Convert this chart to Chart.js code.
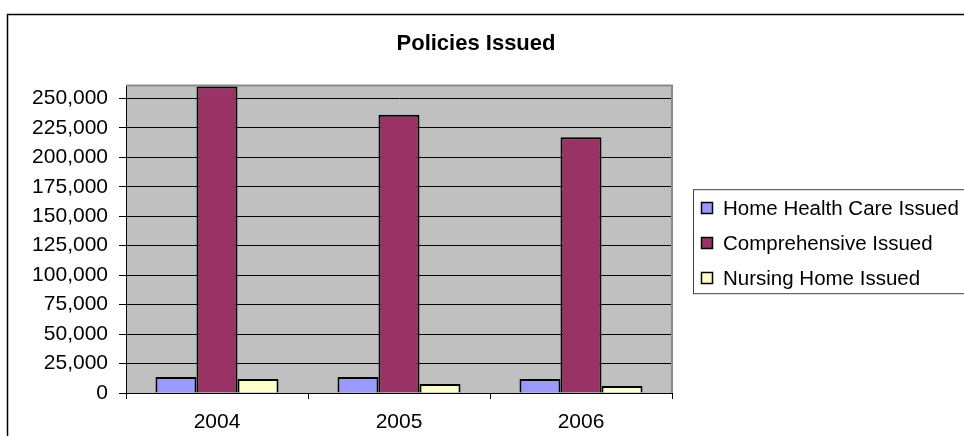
<!DOCTYPE html>
<html>
<head>
<meta charset="utf-8">
<title>Policies Issued</title>
<script src="https://cdn.jsdelivr.net/npm/chart.js@4.4.0/dist/chart.umd.min.js"></script>
<style>
  html, body { margin: 0; padding: 0; background: #fff; }
  canvas { display: block; }
</style>
</head>
<body>
<canvas id="policies" width="964" height="436"></canvas>
<script>
// Policies issued per year, by policy type
const years = ['2004', '2005', '2006'];
const homeHealthIssued = [13600, 13600, 11900];
const comprehensiveIssued = [260000, 236000, 217000];
const nursingHomeIssued = [11900, 7600, 5900];

const seriesNames = ['Home Health Care Issued', 'Comprehensive Issued', 'Nursing Home Issued'];
const seriesColors = ['#9999FF', '#993366', '#FFFFCC'];

const yTickValues = [0, 25000, 50000, 75000, 100000, 125000, 150000, 175000, 200000, 225000, 250000];
const yMax = 261000;

const FONT = '"Liberation Sans", Arial, Helvetica, sans-serif';
Chart.defaults.font.family = FONT;
Chart.defaults.font.size = 21;
Chart.defaults.color = '#000';

// White page, the frame line along the top and left, grey plot background
const frame = {
    id: 'frame',
    beforeDraw(chart) {
        const { ctx, chartArea: a } = chart;
        ctx.save();
        ctx.fillStyle = '#fff';
        ctx.fillRect(0, 0, chart.width, chart.height);
        ctx.strokeStyle = '#000';
        ctx.lineWidth = 1.5;
        ctx.beginPath();
        ctx.moveTo(7.5, chart.height);
        ctx.lineTo(7.5, 14.5);
        ctx.lineTo(chart.width, 14.5);
        ctx.stroke();
        ctx.fillStyle = '#C0C0C0';
        ctx.fillRect(a.left, a.top, a.right - a.left, a.bottom - a.top);
        ctx.restore();
    },
    beforeDatasetsDraw(chart) {
        const { ctx, chartArea: a } = chart;
        ctx.save();
        ctx.strokeStyle = '#8a8a8a';
        ctx.lineWidth = 2;
        ctx.beginPath();
        ctx.moveTo(a.left, a.top);
        ctx.lineTo(a.right, a.top);
        ctx.lineTo(a.right, a.bottom);
        ctx.stroke();
        ctx.restore();
    }
};

function drawLegend(chart, box) {
    const ctx = chart.ctx;
    const cy = (box.top + box.bottom) / 2;
    ctx.save();
    ctx.lineWidth = 1;
    ctx.strokeStyle = '#404040';
    ctx.strokeRect(box.left + 21.5, cy - 49.5, 320, 104);
    ctx.font = '20.5px ' + FONT;
    ctx.textBaseline = 'middle';
    ctx.textAlign = 'left';
    chart.data.datasets.forEach((ds, i) => {
        const y = Math.round(cy + 3.5 + (i - 1) * 35);
        ctx.fillStyle = ds.backgroundColor;
        ctx.fillRect(box.left + 29.5, y - 5.5, 11, 11);
        ctx.lineWidth = 1.5;
        ctx.strokeStyle = '#000';
        ctx.strokeRect(box.left + 29.5, y - 5.5, 11, 11);
        ctx.fillStyle = '#000';
        ctx.fillText(ds.label, box.left + 51, y + 1);
    });
    ctx.restore();
}

// Legend as its own layout box on the right of the plot
const sideLegend = {
    id: 'sideLegend',
    start(chart) {
        const box = {
            position: 'right',
            weight: 1000,
            fullSize: false,
            options: {},
            isHorizontal() { return false; },
            update(maxWidth, maxHeight) {
                this.width = 280;
                this.height = maxHeight;
            },
            draw() {
                drawLegend(chart, this);
            }
        };
        Chart.layouts.addBox(chart, box);
    }
};

new Chart(document.getElementById('policies'), {
    type: 'bar',
    data: {
        labels: years,
        datasets: [
            { label: seriesNames[0], data: homeHealthIssued, backgroundColor: seriesColors[0] },
            { label: seriesNames[1], data: comprehensiveIssued, backgroundColor: seriesColors[1] },
            { label: seriesNames[2], data: nursingHomeIssued, backgroundColor: seriesColors[2] }
        ].map(ds => Object.assign(ds, {
            borderColor: '#000',
            borderWidth: 2,
            categoryPercentage: 0.676,
            barPercentage: 1
        }))
    },
    options: {
        responsive: false,
        animation: false,
        layout: { padding: { left: 0, right: 12, top: 0, bottom: 0 } },
        plugins: {
            legend: { display: false },
            tooltip: { enabled: false },
            title: {
                display: true,
                text: 'Policies Issued',
                color: '#000',
                font: { size: 22, weight: 'bold' },
                padding: { top: 31, bottom: 28 }
            }
        },
        scales: {
            x: {
                grid: { offset: true, drawOnChartArea: false, tickLength: 6, tickColor: '#000' },
                border: { color: '#000', width: 1 },
                ticks: { padding: 11, maxRotation: 0, color: '#000' },
                afterFit(scale) { scale.height = 43; }
            },
            y: {
                min: 0,
                max: yMax,
                afterBuildTicks(scale) {
                    scale.ticks = yTickValues.map(v => ({ value: v }));
                },
                grid: { color: '#000', lineWidth: 1, tickLength: 7, tickColor: '#000' },
                border: { color: '#000', width: 1 },
                ticks: {
                    padding: 11,
                    color: '#000',
                    callback: v => v.toLocaleString('en-US')
                },
                afterFit(scale) { scale.width = 126; }
            }
        }
    },
    plugins: [frame, sideLegend]
});
</script>
</body>
</html>
